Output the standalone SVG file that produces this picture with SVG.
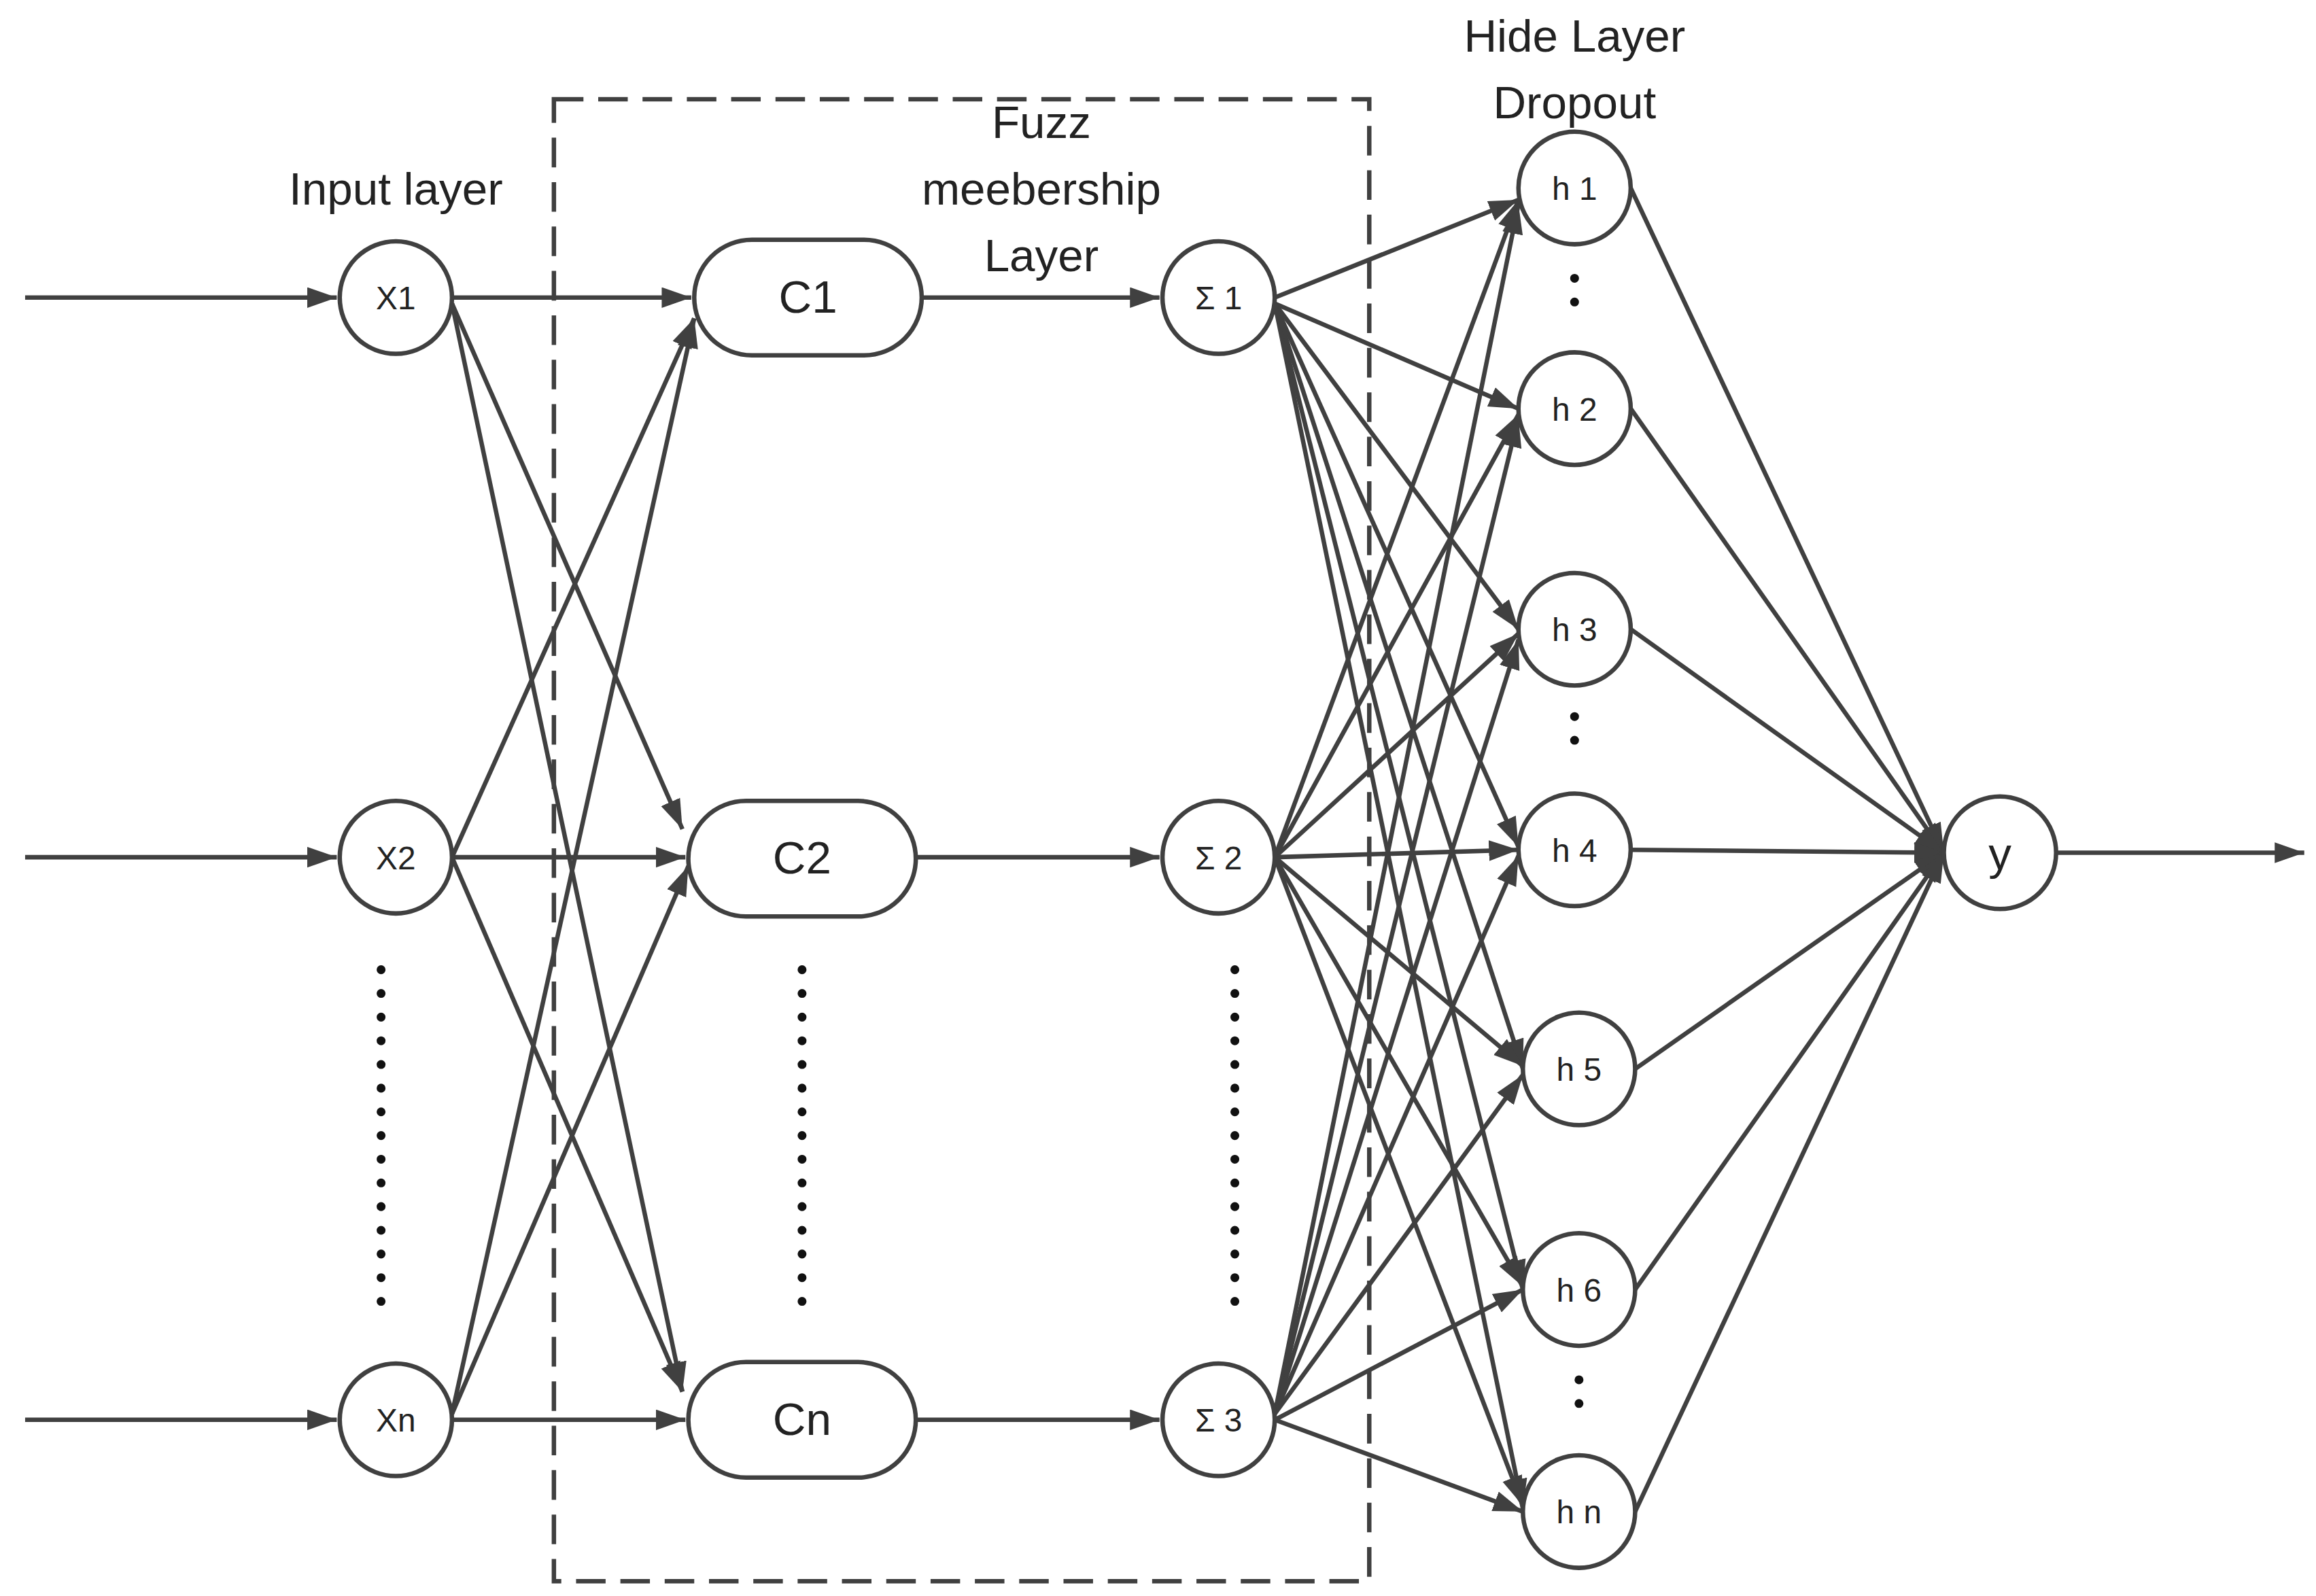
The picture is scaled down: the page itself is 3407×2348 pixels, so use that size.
<svg xmlns="http://www.w3.org/2000/svg" width="3407" height="2348" viewBox="0 0 3407 2348">
<style>
.e{stroke:#404040;stroke-width:3;fill:none;marker-end:url(#a)}
.n{fill:#fff;stroke:#404040;stroke-width:3}
.t{font-family:"Liberation Sans Narrow","Liberation Sans",sans-serif;fill:#222;text-anchor:middle}
.s{font-size:22px}
.l{font-size:31px}
.d{stroke:#111;stroke-width:6;stroke-linecap:round;stroke-dasharray:0 16}
</style>
<defs><marker id="a" markerUnits="userSpaceOnUse" markerWidth="22" markerHeight="16" refX="20" refY="7" orient="auto"><path d="M0,0 L20,7 L0,14 z" fill="#404040"/></marker></defs>
<rect width="3407" height="2348" fill="#fff"/>
<g transform="scale(2.1729,2.1781)">
<rect x="375" y="67" width="552" height="1001" fill="none" stroke="#404040" stroke-width="3" stroke-dasharray="20 10"/>
<g id="connectors">
<path class="e" d="M17,201 L228,201"/><path class="e" d="M17,579 L228,579"/><path class="e" d="M17,959 L228,959"/>
<path class="e" d="M306,201 L468,201"/><path class="e" d="M306,205 L462,560"/><path class="e" d="M306,205 L462,940"/>
<path class="e" d="M306,579 L470,215"/><path class="e" d="M306,579 L464,579"/><path class="e" d="M306,579 L462,940"/>
<path class="e" d="M306,955 L470,215"/><path class="e" d="M306,955 L466,585"/><path class="e" d="M306,959 L464,959"/>
<path class="e" d="M624,201 L785,201"/><path class="e" d="M620,579 L785,579"/><path class="e" d="M620,959 L785,959"/>
<path class="e" d="M863,201 L1028,135"/><path class="e" d="M863,205 L1028,276"/><path class="e" d="M863,205 L1028,425"/><path class="e" d="M863,205 L1028,572"/><path class="e" d="M863,205 L1031,722"/><path class="e" d="M863,205 L1031,871"/><path class="e" d="M863,205 L1031,1019"/>
<path class="e" d="M863,579 L1028,135"/><path class="e" d="M863,579 L1028,280"/><path class="e" d="M863,579 L1028,428"/><path class="e" d="M863,579 L1028,574"/><path class="e" d="M863,579 L1031,720"/><path class="e" d="M863,579 L1031,869"/><path class="e" d="M863,579 L1031,1017"/>
<path class="e" d="M863,955 L1028,138"/><path class="e" d="M863,955 L1028,282"/><path class="e" d="M863,955 L1028,432"/><path class="e" d="M863,955 L1028,578"/><path class="e" d="M863,955 L1031,726"/><path class="e" d="M863,959 L1031,871"/><path class="e" d="M863,959 L1031,1021"/>
<path class="e" d="M1104,127 L1316,576"/><path class="e" d="M1104,276 L1316,576"/><path class="e" d="M1104,425 L1316,576"/><path class="e" d="M1104,574 L1316,576"/><path class="e" d="M1107,722 L1316,576"/><path class="e" d="M1107,871 L1316,576"/><path class="e" d="M1107,1021 L1316,576"/>
<path class="e" d="M1392,576 L1560,576"/>
</g>
<g id="X1"><circle class="n" cx="268" cy="201" r="38"/><text class="t s" x="268" y="209">X1</text></g>
<g id="X2"><circle class="n" cx="268" cy="579" r="38"/><text class="t s" x="268" y="587">X2</text></g>
<g id="Xn"><circle class="n" cx="268" cy="959" r="38"/><text class="t s" x="268" y="967">Xn</text></g>
<g id="C1"><rect class="n" x="470" y="162" width="154" height="78" rx="39"/><text class="t l" x="547" y="211">C1</text></g>
<g id="C2"><rect class="n" x="466" y="541" width="154" height="78" rx="39"/><text class="t l" x="543" y="590">C2</text></g>
<g id="Cn"><rect class="n" x="466" y="920" width="154" height="78" rx="39"/><text class="t l" x="543" y="969">Cn</text></g>
<g id="S1"><circle class="n" cx="825" cy="201" r="38"/><text class="t s" x="825" y="209">Σ 1</text></g>
<g id="S2"><circle class="n" cx="825" cy="579" r="38"/><text class="t s" x="825" y="587">Σ 2</text></g>
<g id="S3"><circle class="n" cx="825" cy="959" r="38"/><text class="t s" x="825" y="967">Σ 3</text></g>
<g id="h1"><circle class="n" cx="1066" cy="127" r="38"/><text class="t s" x="1066" y="135">h 1</text></g>
<g id="h2"><circle class="n" cx="1066" cy="276" r="38"/><text class="t s" x="1066" y="284">h 2</text></g>
<g id="h3"><circle class="n" cx="1066" cy="425" r="38"/><text class="t s" x="1066" y="433">h 3</text></g>
<g id="h4"><circle class="n" cx="1066" cy="574" r="38"/><text class="t s" x="1066" y="582">h 4</text></g>
<g id="h5"><circle class="n" cx="1069" cy="722" r="38"/><text class="t s" x="1069" y="730">h 5</text></g>
<g id="h6"><circle class="n" cx="1069" cy="871" r="38"/><text class="t s" x="1069" y="879">h 6</text></g>
<g id="hn"><circle class="n" cx="1069" cy="1021" r="38"/><text class="t s" x="1069" y="1029">h n</text></g>
<g id="y"><circle class="n" cx="1354" cy="576" r="38"/><text class="t l" x="1354" y="587">y</text></g>
<path class="d" d="M258,655 L258,884"/><path class="d" d="M543,655 L543,884"/><path class="d" d="M836,655 L836,884"/>
<path class="d" d="M1066,188 L1066,220"/><path class="d" d="M1066,484 L1066,516"/><path class="d" d="M1069,932 L1069,964"/>
<text class="t l" x="268" y="138">Input layer</text>
<text class="t l" x="705" y="93">Fuzz</text><text class="t l" x="705" y="138">meebership</text><text class="t l" x="705" y="183">Layer</text>
<text class="t l" x="1066" y="35">Hide Layer</text><text class="t l" x="1066" y="80">Dropout</text>
</g>
</svg>
